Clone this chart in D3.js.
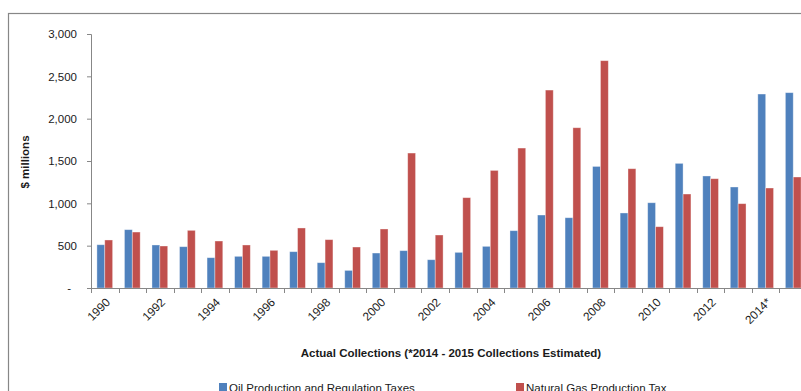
<!DOCTYPE html>
<html>
<head>
<meta charset="utf-8">
<script src="https://cdn.jsdelivr.net/npm/d3@7"></script>
<style>
  html, body { margin: 0; padding: 0; background: #fff; }
  svg { display: block; font-family: "Liberation Sans", Arial, sans-serif; }
</style>
</head>
<body>
<svg id="chart" width="801" height="391"></svg>
<script>
// Severance tax collections, $ millions
const categories = ["1990","1991","1992","1993","1994","1995","1996","1997","1998","1999",
  "2000","2001","2002","2003","2004","2005","2006","2007","2008","2009",
  "2010","2011","2012","2013","2014*","2015"];
const oilTaxes = [511, 689, 508, 488, 358, 374, 374, 429, 299, 208,
  413, 441, 334, 421, 492, 677, 862, 830, 1436, 886,
  1007, 1472, 1323, 1193, 2291, 2307];
const gasTaxes = [567, 661, 496, 681, 555, 508, 445, 709, 571, 484,
  697, 1594, 626, 1067, 1389, 1653, 2338, 1893, 2685, 1409,
  724, 1110, 1291, 996, 1181, 1311];
const yTicks = [0, 500, 1000, 1500, 2000, 2500, 3000];
const xLabels = categories.filter((c, i) => i % 2 === 0);
const seriesNames = ["Oil Production and Regulation Taxes", "Natural Gas Production Tax"];
const colors = ["#4F81BD", "#C0504D"];

const svg = d3.select("#chart");
const axisColor = "#878787";
const textColor = "#1a1a1a";

// chart frame (extends past the visible area)
svg.append("rect")
  .attr("x", 8.5).attr("y", 13.5)
  .attr("width", 900).attr("height", 500)
  .attr("fill", "none").attr("stroke", axisColor).attr("stroke-width", 1.2);

const plotLeft = 91, plotRight = 807, plotTop = 34, plotBottom = 288;

const x = d3.scaleBand().domain(categories).range([plotLeft, plotRight]).paddingInner(0).paddingOuter(0);
const y = d3.scaleLinear().domain([0, 3000]).range([plotBottom, plotTop]);

const bw = x.bandwidth() / 3.5;
const xs = d3.scaleBand().domain([0, 1]).range([x.bandwidth() / 2 - bw, x.bandwidth() / 2 + bw]);

const series = [oilTaxes, gasTaxes];
series.forEach((vals, si) => {
  svg.append("g").selectAll("rect")
    .data(categories.map((c, i) => ({ c, v: vals[i] })))
    .join("rect")
    .attr("x", d => x(d.c) + xs(si))
    .attr("y", d => y(d.v))
    .attr("width", xs.bandwidth())
    .attr("height", d => y(0) - y(d.v))
    .attr("fill", colors[si])
    .attr("stroke", "rgba(255,255,255,0.45)")
    .attr("stroke-width", 0.8);
});

// y axis
const yAxis = svg.append("g")
  .attr("transform", `translate(${plotLeft},0)`)
  .call(d3.axisLeft(y).tickValues(yTicks)
    .tickFormat(d => d === 0 ? "-" : d3.format(",")(d))
    .tickSize(4).tickPadding(10));
yAxis.select(".domain").attr("stroke", axisColor);
yAxis.selectAll(".tick line").attr("stroke", axisColor);
yAxis.selectAll(".tick text")
  .attr("fill", textColor)
  .style("font-size", "11.5px")
  .attr("dx", d => d === 0 ? -6 : 0);

// x axis baseline and category boundary ticks
const xg = svg.append("g");
xg.append("line")
  .attr("x1", plotLeft).attr("x2", plotRight)
  .attr("y1", plotBottom + 0.5).attr("y2", plotBottom + 0.5)
  .attr("stroke", axisColor);
xg.selectAll("line.tk")
  .data(categories)
  .join("line").attr("class", "tk")
  .attr("x1", d => Math.round(x(d)) + 0.5).attr("x2", d => Math.round(x(d)) + 0.5)
  .attr("y1", plotBottom).attr("y2", plotBottom + 5)
  .attr("stroke", axisColor);

// rotated category labels
const xAxis = svg.append("g")
  .attr("transform", `translate(0,${plotBottom})`)
  .call(d3.axisBottom(x).tickValues(xLabels).tickSize(0).tickPadding(0));
xAxis.select(".domain").remove();
xAxis.selectAll(".tick text")
  .attr("fill", textColor)
  .style("font-size", "11.8px")
  .attr("text-anchor", "end")
  .attr("dy", "0")
  .attr("transform", "translate(6,15) rotate(-45)");

// axis titles
svg.append("text")
  .attr("transform", `translate(29,162) rotate(-90)`)
  .attr("text-anchor", "middle")
  .attr("fill", textColor)
  .style("font-size", "11.5px").style("font-weight", "bold")
  .text("$ millions");

svg.append("text")
  .attr("x", 451).attr("y", 357)
  .attr("text-anchor", "middle")
  .attr("fill", textColor)
  .style("font-size", "11.5px").style("font-weight", "bold")
  .text("Actual Collections (*2014 - 2015 Collections Estimated)");

// legend
const legendX = [219, 516];
const lg = svg.append("g").selectAll("g")
  .data(seriesNames)
  .join("g")
  .attr("transform", (d, i) => `translate(${legendX[i]},383)`);
lg.append("rect")
  .attr("width", 8).attr("height", 8)
  .attr("fill", (d, i) => colors[i]);
lg.append("text")
  .attr("x", 10).attr("y", 8.5)
  .attr("fill", textColor)
  .style("font-size", "11.5px")
  .text(d => d);
</script>
</body>
</html>
